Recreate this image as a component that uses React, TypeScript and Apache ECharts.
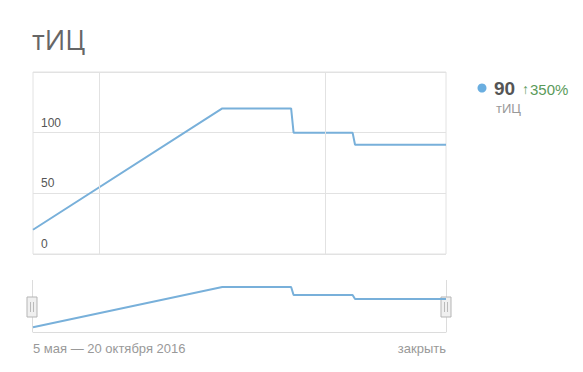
import React, { useEffect, useRef } from "react";
import * as echarts from "echarts";

const dates = ["2016-05-05", "2016-07-21", "2016-08-18", "2016-08-19", "2016-09-12", "2016-09-13", "2016-10-20"];
const values = [20, 120, 120, 100, 100, 90, 90];
const gridDates = ["2016-06-01", "2016-09-01"];
const yTicks = [0, 50, 100];
const titleText = "тИЦ";
const currentValue = "90";
const changeArrow = "↑";
const changeText = "350%";
const rangeText = "5 мая — 20 октября 2016";
const closeText = "закрыть";

const FONT = "'Liberation Sans', Arial, sans-serif";

export default function App() {
  const ref = useRef<HTMLDivElement>(null);
  useEffect(() => {
    const chart = echarts.init(ref.current!, null, { renderer: "svg" });
    const data = dates.map((d, i) => [d, values[i]]);
    const xMin = dates[0];
    const xMax = dates[dates.length - 1];
    const handle = (cx: number) => ({
      type: "group",
      x: cx - 5,
      y: 297,
      children: [
        { type: "rect", shape: { x: 0, y: 0, width: 10, height: 20 }, style: { fill: "#f0f0f0", stroke: "#b5b5b5", lineWidth: 1 } },
        { type: "line", shape: { x1: 3.5, y1: 5, x2: 3.5, y2: 15 }, style: { stroke: "#bbb", lineWidth: 1 } },
        { type: "line", shape: { x1: 6.5, y1: 5, x2: 6.5, y2: 15 }, style: { stroke: "#bbb", lineWidth: 1 } },
      ],
    });
    chart.setOption({
      animation: false,
      textStyle: { fontFamily: FONT },
      grid: [
        { left: 33, right: 137, top: 72, height: 182, show: true, borderColor: "#e2e2e2", borderWidth: 1 },
        { left: 33, right: 137, top: 283, height: 49 },
      ],
      xAxis: [
        {
          type: "time",
          gridIndex: 0,
          min: xMin,
          max: xMax,
          axisLine: { show: false },
          axisTick: { show: false },
          axisLabel: { show: false },
          splitLine: { show: false },
        },
        {
          type: "time",
          gridIndex: 1,
          min: xMin,
          max: xMax,
          axisLine: { show: true, lineStyle: { color: "#dcdcdc", width: 1 } },
          axisTick: { show: false },
          axisLabel: { show: false },
          splitLine: { show: false },
        },
      ],
      yAxis: [
        {
          type: "value",
          gridIndex: 0,
          min: 0,
          max: 150,
          interval: 50,
          axisLine: { show: false },
          axisTick: { show: false },
          splitLine: { show: true, lineStyle: { color: "#e2e2e2", width: 1 } },
          axisLabel: {
            inside: true,
            margin: 8,
            color: "#555",
            fontSize: 12,
            fontFamily: FONT,
            verticalAlign: "bottom",
            padding: [0, 0, 4, 0],
            formatter: (v: number) => (yTicks.includes(v) ? String(v) : ""),
          },
        },
        {
          type: "value",
          gridIndex: 1,
          min: 8,
          max: 130,
          show: false,
          splitLine: { show: false },
        },
      ],
      series: [
        {
          type: "line",
          xAxisIndex: 0,
          yAxisIndex: 0,
          data,
          showSymbol: false,
          symbol: "none",
          lineStyle: { color: "#78b0da", width: 2 },
          markLine: {
            silent: true,
            symbol: "none",
            label: { show: false },
            lineStyle: { color: "#e2e2e2", type: "solid", width: 1 },
            data: gridDates.map((d) => ({ xAxis: d })),
          },
        },
        {
          type: "line",
          xAxisIndex: 1,
          yAxisIndex: 1,
          data,
          showSymbol: false,
          symbol: "none",
          lineStyle: { color: "#78b0da", width: 2 },
        },
      ],
      graphic: [
        { type: "text", x: 32, y: 39, style: { text: titleText, font: `27px 'Open Sans', ${FONT}`, fill: "#666", verticalAlign: "middle" } },
        { type: "circle", shape: { cx: 482, cy: 88, r: 4.5 }, style: { fill: "#6aaee0" } },
        { type: "text", x: 494, y: 88, style: { text: currentValue, font: `bold 19px ${FONT}`, fill: "#555", verticalAlign: "middle" } },
        { type: "text", x: 522, y: 89, style: { text: changeArrow, font: `14px ${FONT}`, fill: "#5a9a5a", verticalAlign: "middle" } },
        { type: "text", x: 530, y: 89, style: { text: changeText, font: `15px ${FONT}`, fill: "#5a9a5a", verticalAlign: "middle" } },
        { type: "text", x: 496, y: 108, style: { text: titleText, font: `13px ${FONT}`, fill: "#999", verticalAlign: "middle" } },
        { type: "line", shape: { x1: 32.5, y1: 280, x2: 32.5, y2: 332 }, style: { stroke: "#dcdcdc", lineWidth: 1 } },
        { type: "line", shape: { x1: 446.5, y1: 280, x2: 446.5, y2: 332 }, style: { stroke: "#dcdcdc", lineWidth: 1 } },
        handle(32),
        handle(446),
        { type: "text", x: 33, y: 348, style: { text: rangeText, font: `13px ${FONT}`, fill: "#999", verticalAlign: "middle" } },
        { type: "text", x: 446, y: 348, style: { text: closeText, font: `13px ${FONT}`, fill: "#999", align: "right", verticalAlign: "middle" } },
      ],
    });
    return () => chart.dispose();
  }, []);
  return <div ref={ref} style={{ position: "fixed", left: 0, top: 0, width: 583, height: 372, background: "#fff" }} />;
}
